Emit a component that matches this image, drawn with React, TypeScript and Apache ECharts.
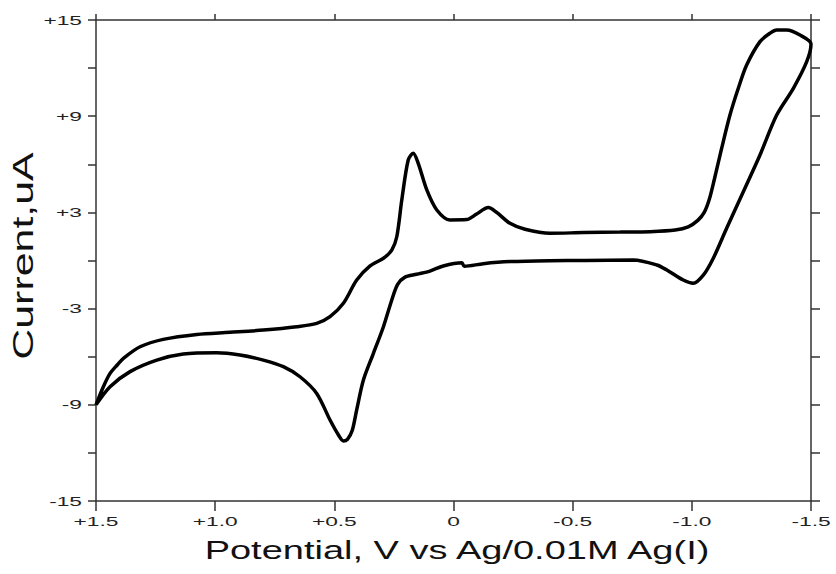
import React, { useEffect, useRef } from "react";
import * as echarts from "echarts";

// Forward scan (upper branch), potential V and current uA
const upperV = [1.5, 1.47, 1.441, 1.41, 1.385, 1.315, 1.218, 1.077, 0.938, 0.798, 0.658, 0.574, 0.518, 0.462, 0.406, 0.35, 0.294, 0.259, 0.238, 0.217, 0.19, 0.169, 0.148, 0.112, 0.07, 0.015, -0.055, -0.097, -0.146, -0.181, -0.237, -0.3, -0.405, -0.545, -0.7, -0.825, -0.93, -0.985, -1.025, -1.052, -1.073, -1.095, -1.125, -1.16, -1.195, -1.23, -1.286, -1.33, -1.356, -1.398, -1.454, -1.5];
const upperI = [-9.0, -7.9, -7.04, -6.5, -6.1, -5.38, -4.92, -4.61, -4.48, -4.34, -4.13, -3.92, -3.5, -2.67, -1.22, -0.34, 0.14, 0.65, 1.48, 3.77, 6.27, 6.69, 6.06, 4.4, 3.15, 2.53, 2.55, 2.9, 3.3, 3.0, 2.32, 1.95, 1.7, 1.74, 1.77, 1.8, 1.9, 2.1, 2.5, 3.0, 3.8, 5.1, 6.99, 9.07, 10.74, 12.19, 13.65, 14.2, 14.38, 14.38, 14.06, 13.5];

// Reverse scan (lower branch)
const lowerV = [-1.5, -1.482, -1.426, -1.356, -1.286, -1.216, -1.146, -1.09, -1.049, -1.006, -0.964, -0.895, -0.853, -0.755, -0.55, -0.405, -0.237, -0.125, -0.045, -0.035, 0.043, 0.099, 0.155, 0.205, 0.235, 0.262, 0.294, 0.336, 0.378, 0.406, 0.425, 0.445, 0.462, 0.482, 0.518, 0.574, 0.644, 0.714, 0.798, 0.896, 0.994, 1.134, 1.245, 1.357, 1.441, 1.5];
const lowerI = [13.5, 12.4, 10.74, 9.07, 6.58, 4.29, 2.01, 0.14, -0.9, -1.42, -1.22, -0.59, -0.28, 0.03, 0.0, -0.01, -0.07, -0.2, -0.36, -0.14, -0.34, -0.66, -0.86, -1.05, -1.5, -2.6, -4.13, -5.79, -7.45, -9.3, -10.6, -11.15, -11.25, -10.9, -9.95, -8.29, -7.25, -6.62, -6.21, -5.89, -5.75, -5.83, -6.21, -6.93, -7.87, -9.0];

const xTickValues = [1.5, 1.0, 0.5, 0, -0.5, -1.0, -1.5];
const xTickLabels = ["+1.5", "+1.0", "+0.5", "0", "-0.5", "-1.0", "-1.5"];
const yTickValues = [15, 9, 3, -3, -9, -15];
const yTickLabels = ["+15", "+9", "+3", "-3", "-9", "-15"];

const xAxisTitle = "Potential, V vs Ag/0.01M Ag(I)";
const yAxisTitle = "Current,uA";

const FONT = "'Liberation Sans', Arial, sans-serif";

export default function App() {
  const ref = useRef<HTMLDivElement>(null);

  useEffect(() => {
    document.body.style.margin = "0";
    if (!ref.current) return;
    const chart = echarts.init(ref.current, undefined, { renderer: "svg" });

    const axisLineStyle = { color: "#333", width: 1.5 };
    const loop: number[][] = [];
    upperV.forEach((v, i) => loop.push([v, upperI[i]]));
    lowerV.forEach((v, i) => loop.push([v, lowerI[i]]));

    const baseX = {
      type: "value" as const,
      min: -1.5,
      max: 1.5,
      interval: 0.5,
      inverse: true,
      axisLine: { show: true, onZero: false, lineStyle: axisLineStyle },
      axisLabel: { show: false },
      splitLine: { show: false },
    };
    const baseY = {
      type: "value" as const,
      min: -15,
      max: 15,
      interval: 3,
      axisLine: { show: true, onZero: false, lineStyle: axisLineStyle },
      axisLabel: { show: false },
      splitLine: { show: false },
    };

    chart.setOption({
      animation: false,
      backgroundColor: "#fff",
      grid: { left: 96, right: 25, top: 20, bottom: 73 },
      xAxis: [
        { ...baseX, position: "bottom", axisTick: { show: true, length: 10, lineStyle: axisLineStyle } },
        { ...baseX, position: "top", axisTick: { show: true, length: 6, lineStyle: axisLineStyle } },
      ],
      yAxis: [
        { ...baseY, position: "left", axisTick: { show: true, length: 8, lineStyle: axisLineStyle } },
        { ...baseY, position: "right", axisTick: { show: true, length: 9, lineStyle: axisLineStyle } },
      ],
      series: [
        {
          type: "line",
          xAxisIndex: 0,
          yAxisIndex: 0,
          data: loop,
          smooth: 0.3,
          symbol: "none",
          lineStyle: { color: "#000", width: 3.5 },
        },
      ],
    });

    const graphics: any[] = [];
    xTickValues.forEach((v, i) => {
      const px = chart.convertToPixel({ xAxisIndex: 0 }, v) as number;
      graphics.push({
        type: "text",
        x: px,
        y: 521.5,
        scaleX: 1.75,
        style: {
          text: xTickLabels[i],
          fontSize: 13,
          fontFamily: FONT,
          fill: "#222",
          align: "center",
          verticalAlign: "middle",
          textAlign: "center",
          textVerticalAlign: "middle",
        },
      });
    });
    yTickValues.forEach((v, i) => {
      const py = chart.convertToPixel({ yAxisIndex: 0 }, v) as number;
      graphics.push({
        type: "text",
        x: 82,
        y: py,
        scaleX: 1.75,
        style: {
          text: yTickLabels[i],
          fontSize: 13,
          fontFamily: FONT,
          fill: "#222",
          align: "right",
          verticalAlign: "middle",
          textAlign: "right",
          textVerticalAlign: "middle",
        },
      });
    });
    graphics.push({
      type: "text",
      x: 457,
      y: 550,
      scaleX: 1.52,
      style: {
        text: xAxisTitle,
        fontSize: 25,
        fontFamily: FONT,
        fill: "#111",
        align: "center",
        verticalAlign: "middle",
        textAlign: "center",
        textVerticalAlign: "middle",
      },
    });
    graphics.push({
      type: "text",
      x: 23,
      y: 256,
      rotation: Math.PI / 2,
      scaleX: 1.48,
      style: {
        text: yAxisTitle,
        fontSize: 29,
        fontFamily: FONT,
        fill: "#111",
        align: "center",
        verticalAlign: "middle",
        textAlign: "center",
        textVerticalAlign: "middle",
      },
    });
    chart.setOption({ graphic: graphics });

    return () => chart.dispose();
  }, []);

  return <div ref={ref} style={{ width: 836, height: 574 }} />;
}
